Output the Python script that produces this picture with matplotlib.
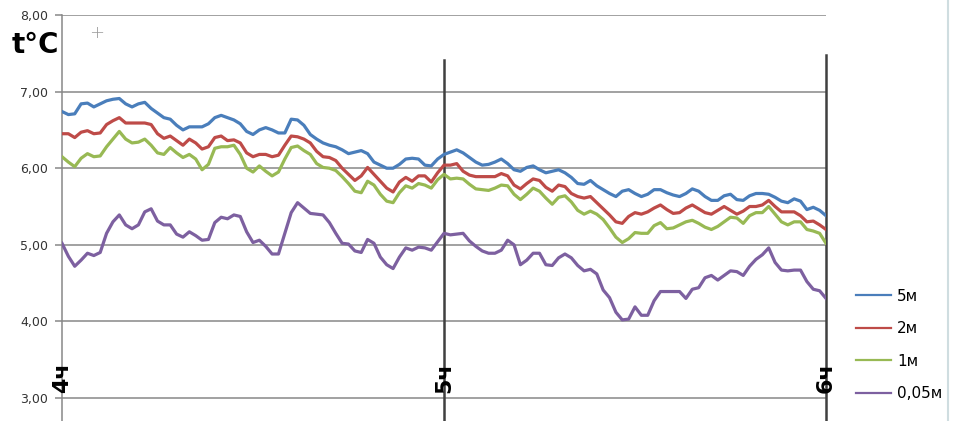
import matplotlib
matplotlib.use("Agg")
import matplotlib.pyplot as plt
from matplotlib.lines import Line2D

# time in minutes from 4ч to 6ч
minutes = list(range(0, 121))

t5m = [6.74, 6.70, 6.71, 6.84, 6.85, 6.80, 6.84, 6.88, 6.90, 6.91,
       6.84, 6.80, 6.84, 6.86, 6.78, 6.72, 6.66, 6.64, 6.56, 6.50,
       6.54, 6.54, 6.54, 6.58, 6.66, 6.69, 6.66, 6.63, 6.58, 6.48,
       6.44, 6.50, 6.53, 6.50, 6.46, 6.46, 6.64, 6.63, 6.56, 6.44,
       6.38, 6.33, 6.30, 6.28, 6.24, 6.19, 6.21, 6.23, 6.19, 6.08,
       6.04, 6.00, 6.00, 6.05, 6.12, 6.13, 6.12, 6.04, 6.03, 6.12,
       6.18, 6.21, 6.24, 6.20, 6.14, 6.08, 6.04, 6.05, 6.08, 6.12,
       6.06, 5.98, 5.96, 6.01, 6.03, 5.98, 5.94, 5.96, 5.98, 5.94,
       5.88, 5.80, 5.79, 5.84, 5.77, 5.72, 5.67, 5.63, 5.70, 5.72,
       5.67, 5.63, 5.66, 5.72, 5.72, 5.68, 5.65, 5.63, 5.67, 5.73,
       5.70, 5.63, 5.58, 5.58, 5.64, 5.66, 5.59, 5.58, 5.64, 5.67,
       5.67, 5.66, 5.62, 5.57, 5.55, 5.60, 5.57, 5.46, 5.49, 5.45,
       5.38]

t2m = [6.45, 6.45, 6.40, 6.47, 6.49, 6.45, 6.46, 6.57, 6.62, 6.66,
       6.59, 6.59, 6.59, 6.59, 6.57, 6.45, 6.39, 6.42, 6.36, 6.30,
       6.38, 6.33, 6.25, 6.28, 6.40, 6.42, 6.36, 6.37, 6.33, 6.20,
       6.15, 6.18, 6.18, 6.15, 6.17, 6.30, 6.42, 6.41, 6.38, 6.33,
       6.22, 6.15, 6.14, 6.10, 6.00, 5.92, 5.84, 5.90, 6.01, 5.92,
       5.83, 5.74, 5.69, 5.82, 5.88, 5.83, 5.90, 5.90, 5.82, 5.94,
       6.04, 6.04, 6.06, 5.96, 5.91, 5.89, 5.89, 5.89, 5.89, 5.93,
       5.90, 5.78, 5.73, 5.80, 5.86, 5.84, 5.75, 5.70, 5.78, 5.76,
       5.67, 5.63, 5.61, 5.63, 5.55, 5.47, 5.39, 5.30, 5.28, 5.37,
       5.42, 5.40, 5.43, 5.48, 5.52, 5.46, 5.41, 5.42, 5.48, 5.52,
       5.47, 5.42, 5.40, 5.45, 5.50, 5.45, 5.40, 5.44, 5.50, 5.50,
       5.52, 5.58, 5.50, 5.43, 5.43, 5.43, 5.38, 5.30, 5.31, 5.26,
       5.20]

t1m = [6.15, 6.08, 6.02, 6.13, 6.19, 6.15, 6.16, 6.28, 6.38, 6.48,
       6.38, 6.33, 6.34, 6.38, 6.30, 6.20, 6.18, 6.27, 6.20, 6.14,
       6.18, 6.12, 5.98, 6.05, 6.26, 6.28, 6.28, 6.30, 6.18, 6.00,
       5.95, 6.03, 5.96, 5.90, 5.95, 6.12, 6.27, 6.29, 6.23, 6.18,
       6.06, 6.01, 6.00, 5.97, 5.89, 5.80, 5.70, 5.68, 5.83, 5.78,
       5.66, 5.57, 5.55, 5.68, 5.77, 5.74, 5.80, 5.78, 5.74, 5.85,
       5.92, 5.86, 5.87, 5.86, 5.79, 5.73, 5.72, 5.71, 5.74, 5.78,
       5.77, 5.66, 5.59, 5.66, 5.74, 5.70, 5.61, 5.53, 5.62, 5.64,
       5.56, 5.45, 5.40, 5.44, 5.40, 5.33, 5.22, 5.10, 5.03, 5.08,
       5.16, 5.15, 5.15, 5.25, 5.29, 5.21, 5.22, 5.26, 5.30, 5.32,
       5.28, 5.23, 5.20, 5.24, 5.30, 5.36, 5.35, 5.28, 5.38, 5.42,
       5.42, 5.50, 5.40, 5.30, 5.26, 5.30, 5.30, 5.20, 5.18, 5.15,
       5.02]

t005m = [5.02, 4.85, 4.72, 4.80, 4.89, 4.86, 4.90, 5.15, 5.30, 5.39,
         5.26, 5.21, 5.26, 5.43, 5.47, 5.31, 5.26, 5.26, 5.14, 5.10,
         5.17, 5.12, 5.06, 5.07, 5.29, 5.36, 5.34, 5.39, 5.37, 5.17,
         5.03, 5.06, 4.98, 4.88, 4.88, 5.15, 5.42, 5.55, 5.48, 5.41,
         5.40, 5.39, 5.29, 5.15, 5.02, 5.01, 4.92, 4.90, 5.07, 5.02,
         4.84, 4.74, 4.69, 4.84, 4.96, 4.93, 4.97, 4.96, 4.93, 5.04,
         5.15, 5.13, 5.14, 5.15, 5.05, 4.98, 4.92, 4.89, 4.89, 4.93,
         5.06, 5.00, 4.74, 4.80, 4.89, 4.89, 4.74, 4.73, 4.83, 4.88,
         4.83, 4.73, 4.66, 4.68, 4.62, 4.41, 4.31, 4.12, 4.02, 4.03,
         4.19, 4.08, 4.08, 4.27, 4.39, 4.39, 4.39, 4.39, 4.30, 4.42,
         4.44, 4.57, 4.60, 4.54, 4.60, 4.66, 4.65, 4.60, 4.72, 4.81,
         4.87, 4.96, 4.77, 4.67, 4.66, 4.67, 4.67, 4.52, 4.42, 4.40,
         4.30]

series_labels = ["5м", "2м", "1м", "0,05м"]
series_colors = ["#4a7ebb", "#be4b48", "#98b954", "#7d60a0"]
yticks = [3, 4, 5, 6, 7, 8]
ytick_labels = ["3,00", "4,00", "5,00", "6,00", "7,00", "8,00"]
hour_pos = [0, 60, 120]
hour_labels = ["4ч", "5ч", "6ч"]

plt.rcParams['font.family'] = ['DejaVu Sans']
fig = plt.figure(figsize=(9.64, 4.21), dpi=100)
ax = fig.add_axes([62/964, 0, (826-62)/964, 406/421])
ax.set_xlim(0, 120)
ax.set_ylim(2.70, 8.0)

grid_c = "#878787"
for v in yticks:
    ax.axhline(v, color=grid_c, lw=1.1, zorder=1)

for s in ["top", "right", "bottom"]:
    ax.spines[s].set_visible(False)
ax.spines["left"].set_color(grid_c)
ax.spines["left"].set_linewidth(1.1)

ax.set_yticks(yticks)
ax.set_yticklabels(ytick_labels, fontsize=9, color="#333333")
ax.tick_params(axis="y", length=5, width=1.1, color=grid_c, pad=5)
ax.set_xticks([])

# hour separator lines
ax.plot([60, 60], [2.70, 7.41], color="#404040", lw=1.8, zorder=2, clip_on=False)
ax.plot([120, 120], [2.70, 7.48], color="#404040", lw=1.8, zorder=2, clip_on=False)

data = [t5m, t2m, t1m, t005m]
handles = []
for vals, lab, col in zip(data, series_labels, series_colors):
    ax.plot(minutes, vals, color=col, lw=2.3, label=lab, zorder=3,
            solid_joinstyle="round")
    handles.append(Line2D([0], [0], color=col, lw=1.6))

for x, lab in zip(hour_pos, hour_labels):
    ax.text(x, 3.27, lab, rotation=90, ha="center", va="center",
            fontsize=16, fontweight="bold", color="black", zorder=4, clip_on=False)

fig.text(12/964, 1 - 45/421, "t°C", fontsize=20, fontweight="bold",
         ha="left", va="center", color="black")
fig.text(97/964, 1 - 33/421, "+", fontsize=13, color="#999999",
         ha="center", va="center", fontweight="light")

fig.legend(handles, series_labels, loc="center left",
           bbox_to_anchor=(842/964, 1 - 345/421), frameon=False,
           fontsize=11, handlelength=2.3, handletextpad=0.4,
           labelspacing=1.15)

# faint spreadsheet column edge at far right
fig.add_artist(Line2D([948/964, 948/964], [0, 1], color="#cfdde0", lw=1.5))

fig.savefig("out.png", dpi=100)
